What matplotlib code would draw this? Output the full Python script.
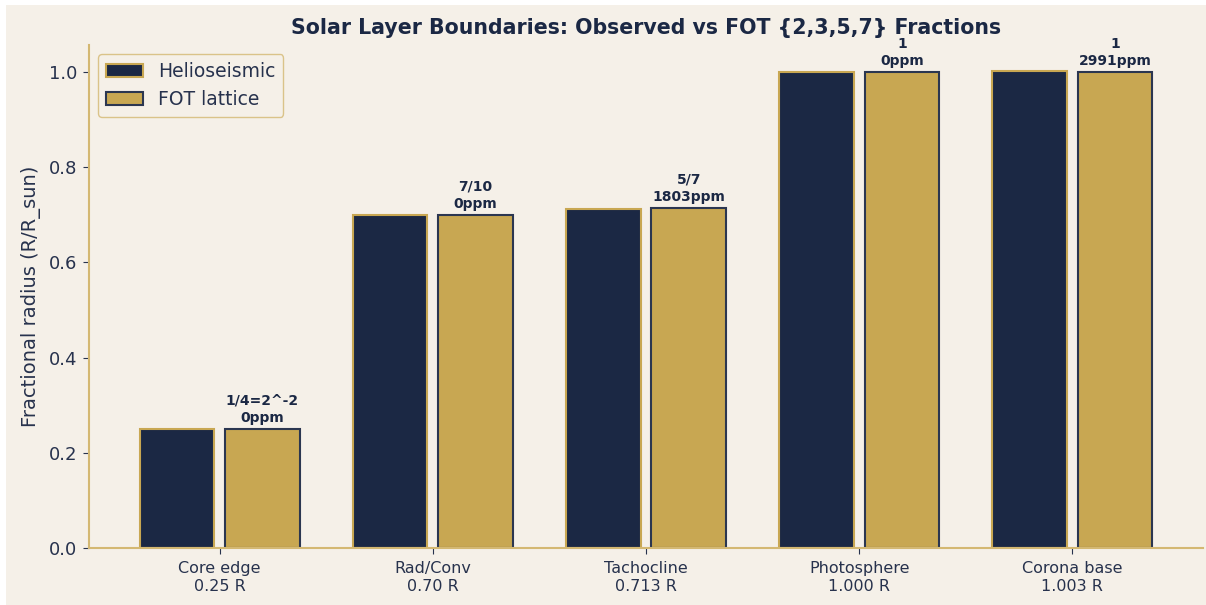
import matplotlib
matplotlib.use('Agg')
import matplotlib.pyplot as plt
import numpy as np
from matplotlib.patches import Rectangle

# layer data
layers = ['Core edge', 'Rad/Conv', 'Tachocline', 'Photosphere', 'Corona base']
observed = [0.25, 0.70, 0.713, 1.000, 1.003]
fot_values = [1 / 4, 7 / 10, 5 / 7, 1.0, 1.0]
fot_labels = ['1/4=2^-2', '7/10', '5/7', '1', '1']
obs_labels = ['0.25 R', '0.70 R', '0.713 R', '1.000 R', '1.003 R']

NAVY = '#1b2844'
TEXT = '#27324d'
GOLD = '#c8a752'
CREAM = '#f5f0e8'
SPINE = '#d4b872'

fig = plt.figure(figsize=(12.06, 6.05), dpi=100, facecolor=CREAM)
# white strip on the left / top as in the reference
fig.patches.append(Rectangle((0, 0), 6 / 1206, 1, transform=fig.transFigure,
                             facecolor='white', edgecolor='none', zorder=-1))
fig.patches.append(Rectangle((0, 1 - 5 / 605), 1, 5 / 605, transform=fig.transFigure,
                             facecolor='white', edgecolor='none', zorder=-1))

ax = fig.add_axes([89 / 1206, 1 - 548 / 605, (1203 - 89) / 1206, (548 - 45) / 605])
ax.set_facecolor(CREAM)

x = np.arange(len(layers))
w = 0.35
ax.bar(x - 0.2, observed, w, color=NAVY, edgecolor=GOLD, linewidth=1.5,
       label='Helioseismic')
ax.bar(x + 0.2, fot_values, w, color=GOLD, edgecolor='#2b3650', linewidth=1.5,
       label='FOT lattice')

for i in range(len(layers)):
    ppm = abs(fot_values[i] - observed[i]) / observed[i] * 1e6
    ax.annotate(f'{fot_labels[i]}\n{ppm:.0f}ppm', (x[i] + 0.2, fot_values[i]),
                xytext=(0, 3), textcoords='offset points', ha='center', va='bottom',
                fontsize=10, fontweight='bold', color=NAVY, linespacing=1.3)

ax.set_ylim(0, 1.057)
ax.set_xticks(x)
ax.set_xticklabels([f'{a}\n{b}' for a, b in zip(layers, obs_labels)],
                   fontsize=11.5, color=TEXT)
for t in ax.get_xticklabels():
    t.set_linespacing(1.3)
ax.tick_params(axis='y', labelsize=13, colors=TEXT, length=4.2, pad=4.5)
ax.tick_params(axis='x', colors=TEXT, length=4.2, pad=5)
ax.set_ylabel('Fractional radius (R/R_sun)', fontsize=14, color=TEXT, labelpad=5)
ax.set_title('Solar Layer Boundaries: Observed vs FOT {2,3,5,7} Fractions',
             fontsize=14.8, fontweight='bold', color=NAVY, pad=8)

for s in ['top', 'right']:
    ax.spines[s].set_visible(False)
for s in ['left', 'bottom']:
    ax.spines[s].set_color(SPINE)
    ax.spines[s].set_linewidth(1.5)

leg = ax.legend(loc='upper left', fontsize=13.5, frameon=True, facecolor=CREAM,
                edgecolor=SPINE)
for t in leg.get_texts():
    t.set_color(TEXT)

fig.savefig('out.png', dpi=100, facecolor=CREAM)
